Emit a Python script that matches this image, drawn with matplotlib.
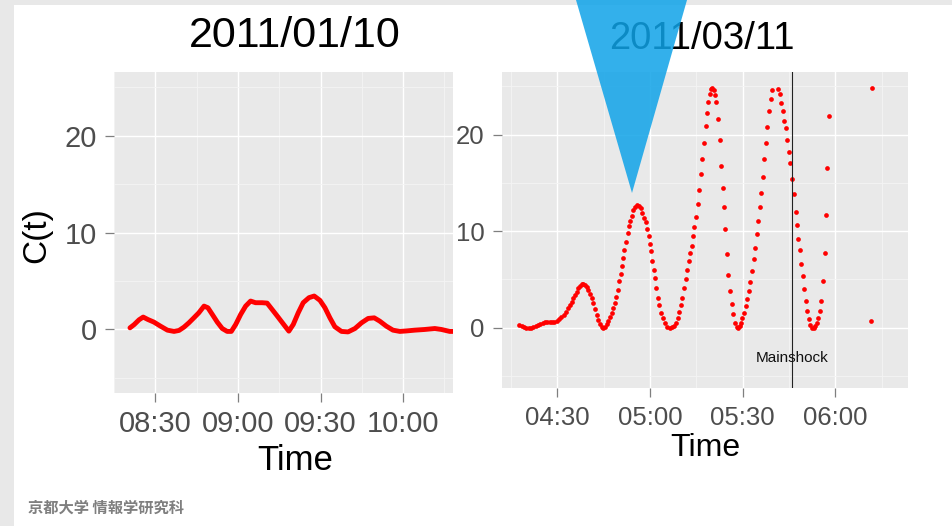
import matplotlib
matplotlib.use("Agg")
import matplotlib.pyplot as plt
from matplotlib.patches import Polygon, Rectangle

plt.rcParams['font.family'] = ['Liberation Sans', 'Noto Sans CJK JP', 'DejaVu Sans']

# 2011/01/10 : minutes after 08:00 and C(t)
jan_minutes = [20.8, 22.3, 24.1, 25.6, 27.3, 29.5, 31.9, 34.4, 36.8, 38.6, 40.4, 42.2,
               44.0, 45.8, 47.7, 49.1, 50.7, 52.5, 54.3, 56.1, 57.6, 59.2, 61.0, 62.8,
               64.6, 66.4, 68.8, 70.6, 72.4, 74.3, 77.1, 78.5, 80.1, 81.9, 83.7, 85.8,
               87.7, 89.8, 91.6, 93.4, 95.2, 97.6, 100.0, 102.5, 104.9, 107.3, 109.5,
               111.5, 113.9, 116.3, 118.8, 121.2, 124.2, 127.8, 131.5, 133.9, 136.9, 138.0]
jan_values = [0.17, 0.5, 1.0, 1.28, 1.03, 0.76, 0.34, -0.07, -0.2, -0.1, 0.24, 0.69,
              1.2, 1.72, 2.41, 2.24, 1.55, 0.76, 0.1, -0.2, -0.2, 0.52, 1.55, 2.41,
              2.93, 2.76, 2.76, 2.72, 2.07, 1.38, 0.34, -0.17, 0.52, 1.72, 2.76, 3.28,
              3.45, 3.0, 2.24, 1.2, 0.28, -0.2, -0.25, 0.1, 0.69, 1.14, 1.2,
              0.86, 0.34, -0.07, -0.2, -0.15, -0.07, 0.0, 0.1, 0.0, -0.2, -0.2]

# 2011/03/11 : minutes after 04:00 and C(t)
mar_minutes = [17.72, 18.48, 19.23, 19.99, 20.74, 21.50, 22.25, 23.01, 23.76, 24.51,
               25.27, 26.02, 26.78, 27.53, 28.29, 29.04, 29.80, 30.55, 31.30, 32.06,
               32.81, 33.57, 34.11, 34.65, 35.18, 35.72, 36.26, 36.80, 37.34, 37.88,
               38.42, 38.96, 39.50, 40.03, 40.57, 41.11, 41.65, 42.19, 42.73, 43.27,
               43.80, 44.34,
               44.9, 45.4, 46.0, 46.5, 47.0, 47.6, 48.1, 48.6, 49.0, 49.5, 50.0, 50.6,
               50.9, 51.3, 51.7, 52.2, 52.8, 53.2, 53.6, 54.1, 54.6, 55.1, 55.8, 56.4,
               57.0, 57.5, 58.0, 58.6, 59.1, 59.6, 60.0, 60.4, 60.8, 61.3, 61.7, 62.1,
               62.7, 63.0, 63.4, 64.1, 64.7, 65.6, 66.4, 67.1, 67.7,
               68.4, 69.0, 69.4, 70.0, 70.5, 71.0, 71.5, 72.0, 72.5, 72.9, 73.5, 73.9,
               74.4, 74.9, 75.5, 76.0, 76.5, 76.9, 77.4, 78.0, 78.5, 78.9, 79.4, 79.8,
               80.1, 80.6, 81.0, 81.4, 82.1, 82.5, 82.9, 83.5, 83.9, 84.4, 85.0, 85.4,
               85.9, 86.5, 86.8, 87.5, 88.0, 88.6, 89.1,
               89.4, 89.9, 90.5, 91.0, 91.4, 92.0, 92.5, 92.9, 93.5, 94.0, 94.5, 95.0,
               95.5, 96.0, 96.5, 96.9, 97.5, 98.0, 98.4, 99.0, 99.5, 101.4, 102.0, 102.4,
               103.0, 103.5, 104.0, 104.5, 105.0, 105.3, 106.0, 106.5, 107.1, 107.5,
               108.0, 108.5, 109.0, 109.5, 110.0, 110.5, 110.9, 111.4, 111.9, 112.4,
               113.1, 113.5, 114.0, 114.4, 114.9, 115.4, 115.9, 116.5, 117.0, 117.4,
               117.9, 131.4, 132.0]
mar_values = [0.26, 0.16, 0.05, -0.02, -0.09, -0.05, 0.02, 0.12, 0.22, 0.36,
              0.47, 0.54, 0.61, 0.61, 0.61, 0.61, 0.71, 0.85, 1.06, 1.33,
              1.64, 1.99, 2.34, 2.68, 3.03, 3.37, 3.72, 4.07, 4.34, 4.52,
              4.52, 4.41, 4.17, 3.89, 3.48, 3.03, 2.51, 1.89, 1.30, 0.78,
              0.33, 0.02,
              0.0, 0.1, 0.33, 0.67, 1.1, 1.5, 2.0, 2.5, 3.2, 3.9, 4.8, 5.6,
              6.4, 7.2, 8.0, 8.9, 9.8, 10.5, 11.1, 11.6, 12.2, 12.5, 12.7, 12.6,
              12.4, 11.9, 11.4, 10.9, 10.2, 9.5, 8.7, 7.9, 6.9, 6.0, 5.1, 4.1,
              3.1, 2.3, 1.5, 0.95, 0.44, 0.1, 0.0, 0.05, 0.15,
              0.44, 1.0, 1.6, 2.3, 3.1, 4.1, 5.0, 6.0, 6.9, 7.7, 8.5, 9.5,
              10.4, 11.5, 12.8, 14.3, 15.9, 17.5, 19.1, 20.9, 22.3, 23.4, 24.2, 24.7,
              24.8, 24.6, 24.1, 23.4, 21.6, 19.4, 16.8, 14.5, 12.5, 10.2, 7.6, 5.5,
              3.8, 2.4, 1.4, 0.5, 0.1, 0.0, 0.2,
              0.44, 0.95, 1.5, 2.2, 3.0, 3.8, 4.7, 5.9, 7.1, 8.3, 9.7, 11.1,
              12.5, 14.0, 15.6, 17.5, 19.1, 20.8, 22.5, 23.7, 24.6, 24.7, 24.2, 23.3,
              22.5, 21.4, 20.7, 19.5, 18.2, 17.1, 15.4, 13.8, 12.0, 10.6,
              9.2, 8.0, 6.6, 5.3, 4.0, 2.75, 1.7, 0.85, 0.26, 0.0,
              0.0, 0.2, 0.5, 1.0, 1.7, 2.75, 4.8, 7.7, 11.7, 16.5,
              21.9, 0.67, 24.8]

jan_ticks = [30, 60, 90, 120]
jan_labels = ["08:30", "09:00", "09:30", "10:00"]
mar_ticks = [30, 60, 90, 120]
mar_labels = ["04:30", "05:00", "05:30", "06:00"]
minor_ticks = [15, 45, 75, 105, 135]
y_ticks = [0, 10, 20]
y_minor = [-5, 5, 15, 25]
mainshock_minute = 106.0

W, H = 952, 526
fig = plt.figure(figsize=(W / 100, H / 100), dpi=100, facecolor="white")

# slide border strips
fig.patches.append(Rectangle((0, 0), 14 / W, 1, transform=fig.transFigure,
                             facecolor="#e8e8e8", edgecolor="none", zorder=0))
fig.patches.append(Rectangle((0, 1 - 5 / H), 1, 5 / H, transform=fig.transFigure,
                             facecolor="#e8e8e8", edgecolor="none", zorder=0))


def ggplot_axes(rect, xlim, ylim, ticks, labels, fsize):
    ax = fig.add_axes(rect)
    ax.set_facecolor("#e9e9e9")
    ax.set_xlim(*xlim)
    ax.set_ylim(*ylim)
    ax.set_xticks(ticks)
    ax.set_xticklabels(labels)
    ax.set_xticks(minor_ticks, minor=True)
    ax.set_yticks(y_ticks)
    ax.set_yticks(y_minor, minor=True)
    ax.grid(True, which="major", color="white", linewidth=1.0)
    ax.grid(True, which="minor", color="#f4f4f4", linewidth=0.6)
    ax.set_axisbelow(True)
    for s in ax.spines.values():
        s.set_visible(False)
    ax.tick_params(which="major", length=6.5, width=0.9, color="#7f7f7f",
                   labelcolor="#4d4d4d", labelsize=fsize, pad=6)
    ax.tick_params(which="minor", length=0)
    return ax


ax1 = ggplot_axes([114 / W, 1 - 393 / H, 339 / W, 321 / H], (15.0, 138.1), (-6.55, 26.55),
                  jan_ticks, jan_labels, 21)
ax1.plot(jan_minutes, jan_values, color="red", linewidth=3.5,
         solid_joinstyle="round", solid_capstyle="round")

ax2 = ggplot_axes([502 / W, 1 - 388.3 / H, 406 / W, 316.3 / H], (12.1, 143.5), (-6.3, 26.5),
                  mar_ticks, mar_labels, 18.5)
ax2.plot(mar_minutes, mar_values, "o", color="red", markersize=3.4, markeredgewidth=0)
ax2.axvline(mainshock_minute, color="#222222", linewidth=0.8)
ax2.text(mainshock_minute, -3.2, "Mainshock", ha="center", va="center", fontsize=11, color="#111111")

# titles and labels
fig.text(295 / W, 1 - 36 / H, "2011/01/10", ha="center", va="center", fontsize=31)
fig.text(702 / W, 1 - 39 / H, "2011/03/11", ha="center", va="center", fontsize=27.5)
fig.text(295 / W, 1 - 460 / H, "Time", ha="center", va="center", fontsize=25)
fig.text(705 / W, 1 - 448 / H, "Time", ha="center", va="center", fontsize=23)
fig.text(37 / W, 1 - 235 / H, "C(t)", ha="center", va="center", fontsize=24, rotation=90)
fig.text(28 / W, 1 - 508 / H, "京都大学 情報学研究科", ha="left", va="center",
         fontsize=11, color="#7f7f7f", fontweight="bold",
         family=["Noto Sans CJK JP", "DejaVu Sans"])

# blue callout triangle
tri = [(576 / W, 1.0), (687 / W, 1.0), (632 / W, 1 - 193 / H)]
fig.patches.append(Polygon(tri, closed=True, transform=fig.transFigure,
                           facecolor=(0.06, 0.64, 0.91), edgecolor="none", alpha=0.85, zorder=10))

fig.savefig("out.png", dpi=100, facecolor="white")
